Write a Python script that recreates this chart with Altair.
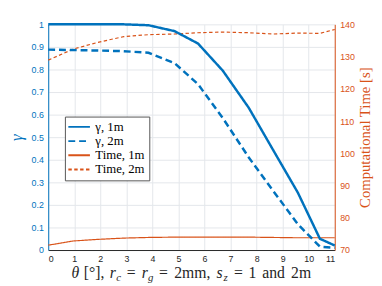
import altair as alt
import pandas as pd

# ---- data ----
theta = [0, 0.95, 1.9, 2.9, 3.85, 4.85, 5.75, 6.7, 7.7, 8.65, 9.58, 10.43, 11]
gamma_1m = [1.0, 1.0, 1.0, 1.0, 0.996, 0.97, 0.915, 0.795, 0.63, 0.44, 0.255, 0.05, 0.02]
gamma_2m = [0.888, 0.886, 0.884, 0.881, 0.874, 0.828, 0.735, 0.585, 0.41, 0.26, 0.115, 0.015, 0.01]
time_1m = [71.5, 72.8, 73.3, 73.7, 73.9, 74.0, 74.0, 74.0, 74.0, 73.9, 73.8, 73.8, 73.8]
time_2m = [128.9, 132.3, 134.4, 136.2, 136.8, 137.0, 137.4, 137.6, 137.4, 137.0, 137.3, 137.2, 138.4]
series_names = ["γ, 1m", "γ, 2m", "Time, 1m", "Time, 2m"]
x_ticks = list(range(0, 12))
gamma_ticks = [0, 0.1, 0.2, 0.3, 0.4, 0.5, 0.6, 0.7, 0.8, 0.9, 1]
time_ticks = [70, 80, 90, 100, 110, 120, 130, 140]

BLUE = "#0072BD"
ORANGE = "#D95319"
DARK = "#262626"
GRID = "#e3e7eb"
SERIF = "Liberation Serif"
SANS = "Liberation Sans"

n = len(theta)
df_g = pd.DataFrame({
    "theta": theta * 2,
    "value": gamma_1m + gamma_2m,
    "series": [series_names[0]] * n + [series_names[1]] * n,
})
df_t = pd.DataFrame({
    "theta": theta * 2,
    "value": time_1m + time_2m,
    "series": [series_names[2]] * n + [series_names[3]] * n,
})

color = alt.Color(
    "series:N",
    scale=alt.Scale(domain=series_names, range=[BLUE, BLUE, ORANGE, ORANGE]),
    legend=alt.Legend(
        title=None, orient="none", legendX=17, legendY=94,
        symbolType="M-2,0H2", symbolSize=121, symbolOffset=4, symbolStrokeWidth=2,
        labelOffset=10, labelFont=SERIF, labelFontSize=13, labelColor="black",
        labelFontWeight="normal",
        padding=4, rowPadding=0.5, strokeColor="#555555", fillColor="white",
        cornerRadius=0,
    ),
)
dash = alt.StrokeDash(
    "series:N",
    scale=alt.Scale(domain=series_names, range=[[1, 0], [7, 4], [1, 0], [3.5, 2.5]]),
    legend=alt.Legend(title=None),
)

x_enc = alt.X(
    "theta:Q",
    scale=alt.Scale(domain=[0, 11], nice=False),
    axis=alt.Axis(values=x_ticks, title=None, grid=True, gridColor=GRID,
                  domainColor=DARK, labelColor=DARK, ticks=False,
                  labelPadding=5, labelFont=SANS, labelFontSize=9),
)

gamma_layer = alt.Chart(df_g).mark_line(strokeWidth=2.5).encode(
    x=x_enc,
    y=alt.Y(
        "value:Q",
        scale=alt.Scale(domain=[0, 1], nice=False),
        axis=alt.Axis(orient="left", values=gamma_ticks, format="~g", title="γ",
                      titleFont=SERIF, titleFontSize=17, titleFontWeight="normal",
                      titleFontStyle="italic", titleColor=BLUE, titlePadding=6,
                      grid=True, gridColor=GRID, domainColor=BLUE, labelColor=BLUE,
                      ticks=False, labelPadding=5, labelFont=SANS, labelFontSize=9),
    ),
    color=color,
    strokeDash=dash,
)

time_layer = alt.Chart(df_t).mark_line(strokeWidth=1.2).encode(
    x=x_enc,
    y=alt.Y(
        "value:Q",
        scale=alt.Scale(domain=[70, 140], nice=False),
        axis=alt.Axis(orient="right", values=time_ticks, title="Computational Time [s]",
                      titleFont=SERIF, titleFontSize=15, titleFontWeight="normal",
                      titleColor=ORANGE, titleAngle=270, titlePadding=18,
                      grid=False, domainColor=ORANGE, labelColor=ORANGE,
                      ticks=False, labelPadding=5, labelFont=SANS, labelFontSize=9),
    ),
    color=color,
    strokeDash=dash,
)

# ---- x-axis title built from text pieces (math style with subscripts) ----
# (text, style, slot width in em, gap after in em); style: n=normal, i=italic, s=italic subscript
tokens = [
    ("θ", "i", 0.469, 0.333), ("[°],", "n", 1.334, 0.333), ("r", "i", 0.451, 0.0),
    ("c", "s", 0.303, 0.278), ("=", "n", 0.778, 0.278), ("r", "i", 0.451, 0.0),
    ("g", "s", 0.334, 0.278), ("=", "n", 0.778, 0.278), ("2mm,", "n", 2.444, 0.333),
    ("s", "i", 0.469, 0.0), ("z", "s", 0.326, 0.278), ("=", "n", 0.778, 0.278),
    ("1", "n", 0.5, 0.333), ("and", "n", 1.612, 0.333), ("2m", "n", 1.333, 0.0),
]
EM = 15.55
FS = 16
start_x = 24
base_y = 258
title_layers = []
pos = 0.0
for txt, style, w, gap in tokens:
    cx = start_x + (pos + w / 2) * EM
    is_sub = style == "s"
    title_layers.append(
        alt.Chart(pd.DataFrame({"t": [txt]})).mark_text(
            align="center", baseline="alphabetic", font=SERIF,
            fontSize=11 if is_sub else FS,
            fontStyle="italic" if style in ("i", "s") else "normal",
            color=DARK,
        ).encode(x=alt.value(cx), y=alt.value(base_y + 3.5 if is_sub else base_y), text="t:N")
    )
    pos += w + gap

chart = alt.layer(time_layer, gamma_layer, *title_layers).resolve_scale(
    y="independent"
).properties(
    width=292, height=230,
    autosize=alt.AutoSizeParams(type="none"),
    padding={"left": 41, "top": 14, "right": 40, "bottom": 34},
).configure_view(stroke=None)

chart.save("out.html", embed_options={"renderer": "svg", "actions": False})
